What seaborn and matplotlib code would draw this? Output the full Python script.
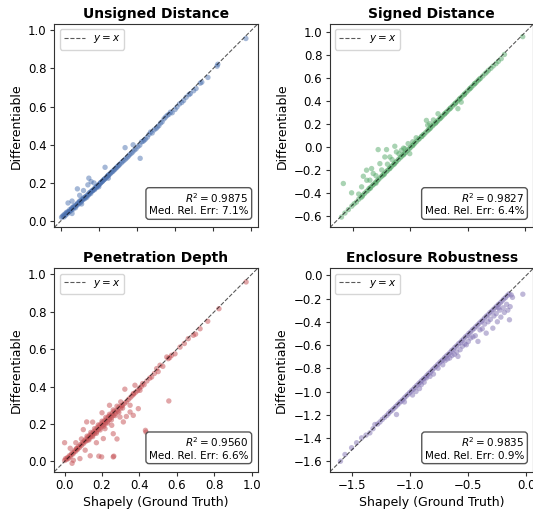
import matplotlib
matplotlib.use("Agg")
import matplotlib.pyplot as plt
import seaborn as sns
import pandas as pd

# ---------------- data ----------------
ud_x = [0.005, 0.010, 0.015, 0.018, 0.020, 0.025, 0.028, 0.030, 0.035, 0.038,
        0.040, 0.045, 0.048, 0.050, 0.055, 0.058, 0.060, 0.065, 0.068, 0.070,
        0.075, 0.078, 0.080, 0.085, 0.088, 0.090, 0.095, 0.098, 0.100, 0.105,
        0.108, 0.110, 0.115, 0.118, 0.120, 0.125, 0.128, 0.130, 0.135, 0.138,
        0.140, 0.145, 0.148, 0.150, 0.155, 0.158, 0.160, 0.165, 0.168, 0.170,
        0.175, 0.178, 0.180, 0.185, 0.188, 0.190, 0.195, 0.198, 0.200, 0.205,
        0.208, 0.210, 0.215, 0.218, 0.220, 0.225, 0.228, 0.230, 0.235, 0.240,
        0.245, 0.248, 0.250, 0.255, 0.260, 0.265, 0.270, 0.275, 0.280, 0.285,
        0.290, 0.295, 0.300, 0.305, 0.310, 0.318, 0.325, 0.332, 0.340, 0.348,
        0.355, 0.362, 0.370, 0.378, 0.386, 0.395, 0.405, 0.415, 0.424, 0.432,
        0.438, 0.445, 0.455, 0.464, 0.472, 0.480, 0.490, 0.500, 0.507, 0.515,
        0.524, 0.532, 0.542, 0.550, 0.559, 0.568, 0.576, 0.585, 0.600, 0.610,
        0.623, 0.635, 0.645, 0.658, 0.673, 0.680, 0.697, 0.710, 0.732, 0.740,
        0.772, 0.820, 0.824, 0.971,
        0.039, 0.060, 0.088, 0.100, 0.120, 0.143, 0.148, 0.160, 0.175, 0.233,
        0.250, 0.338, 0.417, 0.060, 0.110, 0.200, 0.380]
ud_y = [0.020, 0.025, 0.030, 0.022, 0.035, 0.030, 0.040, 0.045, 0.038, 0.050,
        0.045, 0.050, 0.060, 0.052, 0.058, 0.065, 0.070, 0.062, 0.072, 0.080,
        0.075, 0.070, 0.085, 0.082, 0.090, 0.095, 0.090, 0.100, 0.105, 0.098,
        0.110, 0.105, 0.112, 0.120, 0.115, 0.122, 0.118, 0.128, 0.130, 0.125,
        0.135, 0.140, 0.138, 0.148, 0.150, 0.145, 0.155, 0.158, 0.160, 0.162,
        0.168, 0.165, 0.172, 0.178, 0.175, 0.182, 0.185, 0.188, 0.190, 0.195,
        0.198, 0.202, 0.205, 0.208, 0.210, 0.215, 0.218, 0.220, 0.225, 0.228,
        0.235, 0.238, 0.240, 0.245, 0.248, 0.255, 0.258, 0.262, 0.268, 0.272,
        0.278, 0.282, 0.288, 0.292, 0.298, 0.305, 0.312, 0.318, 0.325, 0.332,
        0.340, 0.348, 0.355, 0.362, 0.372, 0.378, 0.390, 0.398, 0.415, 0.418,
        0.424, 0.430, 0.440, 0.455, 0.467, 0.462, 0.478, 0.485, 0.493, 0.500,
        0.514, 0.520, 0.536, 0.545, 0.554, 0.560, 0.571, 0.568, 0.585, 0.598,
        0.614, 0.622, 0.632, 0.649, 0.663, 0.668, 0.683, 0.695, 0.723, 0.728,
        0.753, 0.812, 0.822, 0.957,
        0.095, 0.105, 0.169, 0.135, 0.160, 0.190, 0.225, 0.207, 0.200, 0.282,
        0.225, 0.385, 0.329, 0.040, 0.090, 0.180, 0.400]

sd_x = [-0.600, -0.570, -0.540, -0.510, -0.490, -0.470, -0.450, -0.430, -0.415, -0.400,
        -0.385, -0.370, -0.360, -0.345, -0.330, -0.320, -0.305, -0.290, -0.280, -0.265,
        -0.250, -0.240, -0.225, -0.210, -0.200, -0.185, -0.170, -0.160, -0.145, -0.130,
        -0.120, -0.105, -0.090, -0.080, -0.065, -0.050, -0.040, -0.025, -0.010, 0.000,
        0.015, 0.030, 0.040, 0.055, 0.070, 0.080, 0.095, 0.110, 0.120, 0.135,
        0.150, 0.160, 0.175, 0.190, 0.200, 0.215, 0.230, 0.240, 0.255, 0.270,
        0.280, 0.295, 0.310, 0.320, 0.335, 0.350, 0.365, 0.380, 0.395, 0.410,
        0.425, 0.440, 0.455, 0.470, 0.485, 0.500, 0.515, 0.530, 0.545, 0.560,
        0.575, 0.590, 0.610, 0.630, 0.650, 0.665, 0.680, 0.700, 0.720, 0.745,
        0.765, 0.790, 0.818, 0.977,
        -0.420, -0.350, -0.300, -0.230, -0.180, -0.140, -0.060, 0.020, 0.100, 0.170,
        0.220, 0.260, 0.300, 0.345, 0.390, 0.430, 0.470, 0.520, 0.560, 0.600,
        -0.584, -0.512, -0.425, -0.410, -0.382, -0.353, -0.338, -0.324, -0.300, -0.281,
        -0.266, -0.250, -0.223, -0.208, -0.200, -0.179, -0.160, -0.136, -0.122, -0.100,
        -0.078, -0.060, -0.049, -0.020, -0.006, 0.020, 0.050, 0.139, 0.168, 0.240,
        0.413, 0.442, 0.200, 0.150, -0.450, -0.380]
sd_y = [-0.610, -0.575, -0.545, -0.515, -0.495, -0.480, -0.455, -0.440, -0.420, -0.405,
        -0.390, -0.378, -0.362, -0.350, -0.335, -0.325, -0.310, -0.295, -0.285, -0.270,
        -0.255, -0.245, -0.230, -0.215, -0.205, -0.190, -0.175, -0.165, -0.150, -0.135,
        -0.125, -0.110, -0.095, -0.085, -0.070, -0.055, -0.045, -0.030, -0.015, -0.005,
        0.010, 0.025, 0.035, 0.050, 0.065, 0.075, 0.090, 0.105, 0.112, 0.128,
        0.142, 0.152, 0.168, 0.182, 0.192, 0.205, 0.220, 0.232, 0.245, 0.260,
        0.270, 0.285, 0.300, 0.310, 0.325, 0.340, 0.355, 0.370, 0.385, 0.400,
        0.415, 0.430, 0.445, 0.460, 0.475, 0.490, 0.505, 0.520, 0.535, 0.550,
        0.565, 0.580, 0.598, 0.618, 0.638, 0.652, 0.668, 0.685, 0.705, 0.725,
        0.745, 0.768, 0.805, 0.960,
        -0.430, -0.360, -0.315, -0.240, -0.188, -0.148, -0.068, 0.012, 0.092, 0.160,
        0.210, 0.250, 0.290, 0.335, 0.378, 0.420, 0.458, 0.510, 0.552, 0.590,
        -0.318, -0.399, -0.347, -0.255, -0.202, -0.289, -0.188, -0.231, -0.250, -0.023,
        -0.145, -0.200, -0.087, -0.023, -0.150, -0.087, -0.110, 0.006, -0.043, -0.060,
        -0.029, -0.010, -0.015, 0.029, -0.058, 0.045, 0.080, 0.231, 0.202, 0.289,
        0.333, 0.390, 0.235, 0.190, -0.410, -0.290]

pd_x = [0.000, 0.005, 0.010, 0.015, 0.020, 0.025, 0.030, 0.035, 0.040, 0.045,
        0.050, 0.055, 0.060, 0.065, 0.070, 0.075, 0.080, 0.085, 0.090, 0.095,
        0.100, 0.105, 0.110, 0.115, 0.120, 0.125, 0.130, 0.135, 0.140, 0.145,
        0.150, 0.155, 0.160, 0.165, 0.170, 0.175, 0.180, 0.185, 0.190, 0.195,
        0.200, 0.205, 0.210, 0.215, 0.220, 0.225, 0.230, 0.235, 0.240, 0.245,
        0.250, 0.255, 0.260, 0.265, 0.270, 0.280, 0.285, 0.290, 0.300, 0.305,
        0.310, 0.320, 0.330, 0.340, 0.350, 0.360, 0.370, 0.380, 0.390, 0.400,
        0.410, 0.417, 0.425, 0.440, 0.455, 0.465, 0.480, 0.492, 0.510, 0.525,
        0.546, 0.554, 0.562, 0.572, 0.590, 0.617, 0.640, 0.661, 0.688, 0.700,
        0.724, 0.765, 0.825, 0.970,
        0.120, 0.140, 0.160, 0.180, 0.200, 0.220, 0.240, 0.260, 0.280, 0.300,
        0.130, 0.150, 0.170, 0.190, 0.210, 0.230, 0.250, 0.270, 0.290, 0.310,
        0.000, 0.030, 0.040, 0.065, 0.082, 0.047, 0.090, 0.118, 0.100, 0.137,
        0.183, 0.198, 0.260, 0.263, 0.207, 0.216, 0.252, 0.260, 0.280, 0.296,
        0.314, 0.350, 0.367, 0.367, 0.394, 0.376, 0.403, 0.432, 0.435, 0.557,
        0.322, 0.200, 0.150, 0.240, 0.330, 0.170, 0.060, 0.110, 0.500, 0.350]
pd_y = [0.005, 0.015, 0.010, 0.020, 0.015, 0.030, 0.025, 0.035, 0.045, 0.040,
        0.050, 0.060, 0.055, 0.070, 0.065, 0.080, 0.075, 0.090, 0.085, 0.100,
        0.095, 0.110, 0.105, 0.120, 0.112, 0.130, 0.122, 0.140, 0.132, 0.148,
        0.140, 0.158, 0.150, 0.168, 0.158, 0.180, 0.170, 0.190, 0.178, 0.200,
        0.190, 0.210, 0.198, 0.218, 0.205, 0.228, 0.215, 0.240, 0.225, 0.245,
        0.235, 0.258, 0.245, 0.268, 0.255, 0.275, 0.268, 0.290, 0.285, 0.298,
        0.300, 0.310, 0.318, 0.330, 0.340, 0.350, 0.360, 0.370, 0.378, 0.392,
        0.400, 0.416, 0.410, 0.430, 0.445, 0.451, 0.470, 0.496, 0.514, 0.508,
        0.558, 0.549, 0.555, 0.567, 0.575, 0.611, 0.630, 0.656, 0.674, 0.680,
        0.709, 0.749, 0.816, 0.959,
        0.135, 0.155, 0.175, 0.195, 0.215, 0.235, 0.252, 0.275, 0.295, 0.318,
        0.115, 0.132, 0.150, 0.168, 0.188, 0.205, 0.222, 0.245, 0.262, 0.285,
        0.100, 0.070, -0.010, 0.068, 0.015, 0.006, 0.120, 0.211, 0.170, 0.030,
        0.028, 0.024, 0.024, 0.028, 0.122, 0.175, 0.193, 0.148, 0.120, 0.237,
        0.211, 0.264, 0.246, 0.362, 0.282, 0.407, 0.380, 0.166, 0.157, 0.323,
        0.386, 0.260, 0.210, 0.300, 0.240, 0.100, 0.100, 0.060, 0.480, 0.300]

er_x = [-1.600, -1.561, -1.504, -1.461, -1.418, -1.380, -1.347, -1.320, -1.304, -1.280,
        -1.260, -1.240, -1.220, -1.200, -1.185, -1.170, -1.155, -1.140, -1.125, -1.110,
        -1.095, -1.080, -1.065, -1.050, -1.035, -1.020, -1.005, -0.990, -0.975, -0.960,
        -0.945, -0.930, -0.915, -0.900, -0.885, -0.870, -0.855, -0.840, -0.825, -0.810,
        -0.795, -0.780, -0.765, -0.750, -0.735, -0.720, -0.705, -0.690, -0.675, -0.660,
        -0.645, -0.630, -0.615, -0.600, -0.585, -0.570, -0.555, -0.540, -0.525, -0.510,
        -0.495, -0.480, -0.465, -0.450, -0.435, -0.420, -0.405, -0.390, -0.375, -0.360,
        -0.345, -0.330, -0.315, -0.300, -0.285, -0.270, -0.255, -0.240, -0.225, -0.210,
        -0.195, -0.180, -0.165, -0.150,
        -1.118, -1.050, -0.980, -0.950, -0.920, -0.904, -0.880, -0.861, -0.830, -0.800,
        -0.760, -0.720, -0.700, -0.680, -0.660, -0.640, -0.620, -0.600, -0.589, -0.570,
        -0.550, -0.530, -0.517, -0.500, -0.480, -0.460, -0.440, -0.417, -0.400, -0.380,
        -0.360, -0.346, -0.330, -0.310, -0.289, -0.280, -0.260, -0.250, -0.230, -0.220,
        -0.200, -0.190, -0.170, -0.160, -0.146, -0.140, -0.131, -0.120, -0.031, -0.240]
er_y = [-1.600, -1.542, -1.484, -1.441, -1.399, -1.375, -1.356, -1.320, -1.284, -1.280,
        -1.262, -1.240, -1.222, -1.205, -1.188, -1.172, -1.160, -1.145, -1.130, -1.115,
        -1.100, -1.085, -1.072, -1.055, -1.040, -1.025, -1.010, -0.995, -0.982, -0.965,
        -0.950, -0.935, -0.920, -0.905, -0.890, -0.878, -0.860, -0.845, -0.832, -0.815,
        -0.800, -0.785, -0.770, -0.755, -0.740, -0.728, -0.710, -0.695, -0.682, -0.668,
        -0.650, -0.638, -0.620, -0.608, -0.590, -0.578, -0.562, -0.548, -0.530, -0.518,
        -0.500, -0.488, -0.470, -0.458, -0.442, -0.428, -0.412, -0.398, -0.385, -0.368,
        -0.352, -0.340, -0.322, -0.310, -0.295, -0.280, -0.265, -0.250, -0.238, -0.222,
        -0.205, -0.192, -0.175, -0.160,
        -1.198, -1.090, -1.030, -1.000, -0.975, -0.941, -0.920, -0.884, -0.870, -0.850,
        -0.800, -0.770, -0.735, -0.720, -0.712, -0.690, -0.680, -0.660, -0.698, -0.640,
        -0.610, -0.590, -0.598, -0.570, -0.540, -0.530, -0.520, -0.569, -0.470, -0.460,
        -0.420, -0.498, -0.400, -0.380, -0.455, -0.350, -0.330, -0.400, -0.300, -0.360,
        -0.280, -0.320, -0.250, -0.300, -0.383, -0.270, -0.169, -0.190, -0.163, -0.280]

titles = ["Unsigned Distance", "Signed Distance", "Penetration Depth", "Enclosure Robustness"]
r2_values = ["0.9875", "0.9827", "0.9560", "0.9835"]
rel_errors = ["7.1", "6.4", "6.6", "0.9"]

# ---------------- style ----------------
colors = ["#4C72B0", "#55A868", "#C44E52", "#8172B3"]
limits = [(-0.033, 1.033), (-0.70, 1.07), (-0.055, 1.032), (-1.69, 0.06)]
xticks = [[0, 0.2, 0.4, 0.6, 0.8, 1.0], [-0.5, 0.0, 0.5, 1.0],
          [0, 0.2, 0.4, 0.6, 0.8, 1.0], [-1.5, -1.0, -0.5, 0.0]]
yticks = [[0, 0.2, 0.4, 0.6, 0.8, 1.0],
          [-0.6, -0.4, -0.2, 0.0, 0.2, 0.4, 0.6, 0.8, 1.0],
          [0, 0.2, 0.4, 0.6, 0.8, 1.0],
          [-1.6, -1.4, -1.2, -1.0, -0.8, -0.6, -0.4, -0.2, 0.0]]

W, H = 533, 509
fig = plt.figure(figsize=(W / 100, H / 100), dpi=100)
size = 203.4
pos_px = [(54.3, 24.0), (330.0, 24.0), (54.3, 268.3), (330.0, 268.3)]

datasets = [(ud_x, ud_y), (sd_x, sd_y), (pd_x, pd_y), (er_x, er_y)]

for i, ((xs, ys), (lx, ty)) in enumerate(zip(datasets, pos_px)):
    ax = fig.add_axes([lx / W, (H - ty - size) / H, size / W, size / H])
    df = pd.DataFrame({"x": xs, "y": ys})
    sns.scatterplot(data=df, x="x", y="y", ax=ax, color=colors[i], s=15,
                    alpha=0.5, edgecolor="none", linewidth=0, legend=False)
    lo, hi = limits[i]
    ax.plot([lo, hi], [lo, hi], linestyle="--", color="black", lw=0.8,
            alpha=0.65, label="$y = x$")
    ax.set_xlim(lo, hi)
    ax.set_ylim(lo, hi)
    ax.set_xticks(xticks[i])
    ax.set_yticks(yticks[i])
    ax.tick_params(labelsize=8.5, length=3, pad=2.5, color="#333333")
    for sp in ax.spines.values():
        sp.set_color("#333333")
    ax.set_title(titles[i], fontsize=10, fontweight="bold", pad=4.5)
    ax.set_ylabel("Differentiable", fontsize=9, labelpad=4)
    if i < 2:
        ax.set_xlabel("")
        ax.tick_params(labelbottom=False)
    else:
        ax.set_xlabel("Shapely (Ground Truth)", fontsize=9, labelpad=2.5)
    ax.legend(loc="upper left", fontsize=7.5)
    ax.text(0.955, 0.055, f"$R^2 = {r2_values[i]}$\nMed. Rel. Err: {rel_errors[i]}%",
            transform=ax.transAxes, ha="right", va="bottom", fontsize=7.5,
            bbox=dict(boxstyle="round,pad=0.3", facecolor="white",
                      edgecolor="#444444", alpha=0.9))

fig.savefig("out.png", dpi=100)
